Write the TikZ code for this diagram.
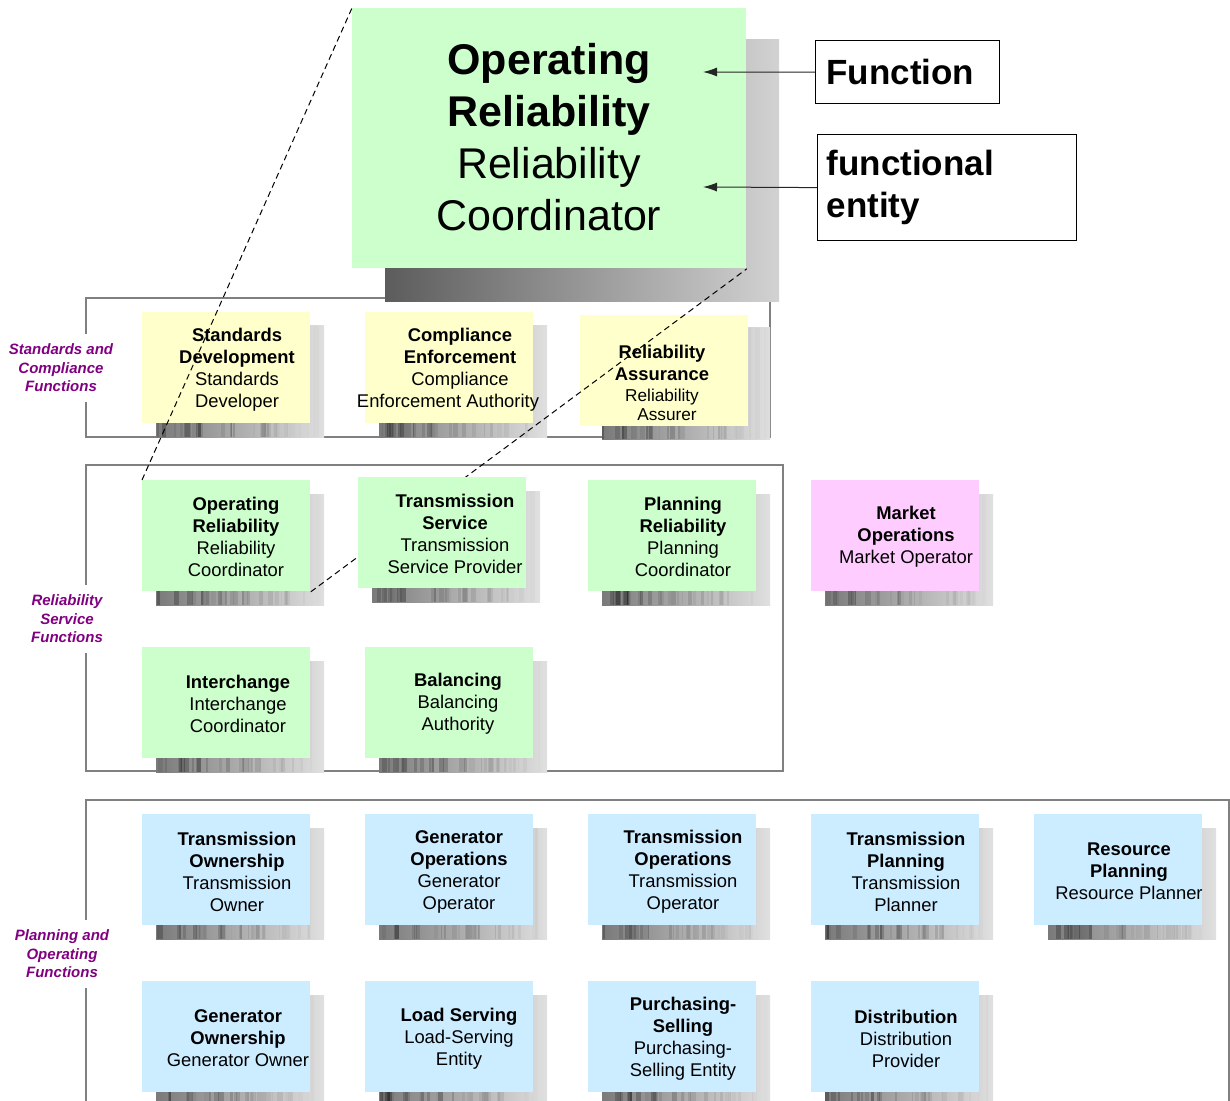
\documentclass[tikz,border=0pt]{standalone}
\usepackage{fontspec}
\setmainfont{Liberation Sans}
\usetikzlibrary{arrows.meta}
\definecolor{fgreen}{HTML}{CCFFCC}
\definecolor{fyellow}{HTML}{FFFFCC}
\definecolor{fpink}{HTML}{FFCCFF}
\definecolor{fblue}{HTML}{CCECFF}
\definecolor{lblpurple}{HTML}{800080}
\definecolor{grpgray}{HTML}{808080}
\definecolor{shdark}{HTML}{7A7A7A}
\definecolor{shlight}{HTML}{E0E0E0}
\definecolor{bigdark}{HTML}{5C5C5C}
\definecolor{biglight}{HTML}{D2D2D2}
\newcommand\B[1]{\textbf{#1}}
\newcommand\shadowbar[4]{%
  \shade[left color=shdark,right color=shlight] (#1,#2) rectangle ++(#3,#4);
  \foreach \k in {1,...,30}{%
    \pgfmathsetmacro\sx{rnd*(#3-4)}%
    \pgfmathsetmacro\sw{1+rnd*5}%
    \pgfmathsetmacro\so{(0.05+rnd*0.25)*(1-\sx/#3)}%
    \fill[black,opacity=\so] (#1+\sx,#2) rectangle ++(\sw,#4);
  }%
}
% name, x, y, colour, text centre, text, shadow dx, shadow dy
\newcommand\fnbox[8]{%
  \pgfmathsetmacro\shx{#2+#7}\pgfmathsetmacro\shy{#3+#8}%
  \shadowbar{\shx}{\shy}{168}{111}
  \node[fnrect,fill=#4] (#1) at (#2,#3) {};
  \node[fntext] (#1-t) at (#5) {#6};
}
\begin{document}
\begin{tikzpicture}[x=0.5pt,y=-0.5pt,
  grp/.style={draw=grpgray,line width=0.6pt},
  fnrect/.style={rectangle,anchor=north west,minimum width=84pt,minimum height=55.5pt,inner sep=0pt},
  fntext/.style={align=center,font=\fontsize{9.2}{11}\selectfont,inner sep=0pt,yshift=-1pt},
  grplabel/.style={align=center,font=\fontsize{7.5}{9.25}\selectfont\bfseries\itshape,text=lblpurple,fill=white,inner xsep=1pt,inner ysep=5pt},
  dashline/.style={dash pattern=on 3pt off 2pt,line width=0.5pt},
  arr/.style={-{Latex[length=7pt,width=4.5pt]},line width=0.5pt,draw=black!85},
  keybox/.style={draw,line width=0.6pt,anchor=north west,align=left,font=\fontsize{17.5}{21}\selectfont\bfseries}]
\pgfmathsetseed{7}
\useasboundingbox (0,0) rectangle (1230,1101);
\fill[white] (0,0) rectangle (1230,1101);

% group frames
\draw[grp] (86,298) rectangle (770,437);
\draw[grp] (86,465) rectangle (783,771);
\draw[grp] (86,1115) -- (86,800) -- (1229,800) -- (1229,1115);
\node[grplabel] (lbl1) at (61,368) {Standards and\\Compliance\\Functions};
\node[grplabel] (lbl2) at (67,619) {Reliability\\Service\\Functions};
\node[grplabel] (lbl3) at (62,954) {Planning and\\Operating\\Functions};

% standards and compliance
\fnbox{sd}{142}{312}{fyellow}{237,367.5}{\B{Standards}\\\B{Development}\\Standards\\Developer}{14}{14}
\fnbox{ce}{365}{312}{fyellow}{460,367.5}{\B{Compliance}\\\B{Enforcement}\\Compliance\\Enforcement Authority\hspace*{12pt}}{14}{14}
\fnbox{ra}{580}{315}{fyellow}{662,381}{\B{Reliability}\\\B{Assurance}\\[-0.5pt]{\fontsize{8.6}{9}\selectfont Reliability}\\[-1.5pt]{\fontsize{8.6}{9}\selectfont\hspace*{5pt}Assurer}}{22}{13}

% enlarged box
\shade[left color=bigdark,right color=biglight] (385,40) rectangle (779,302);
\node[fnrect,fill=fgreen,minimum width=197pt,minimum height=130pt] (big) at (352,8) {};
\node[align=center,inner sep=0pt,font=\fontsize{21.5}{26}\selectfont] (big-t) at (549,137)
  {\B{Operating}\\\B{Reliability}\\Reliability\\Coordinator};

% reliability service
\fnbox{orel}{142}{480}{fgreen}{236,535}{\B{Operating}\\\B{Reliability}\\Reliability\\Coordinator}{14}{14}
\fnbox{prel}{588}{480}{fgreen}{683,535}{\B{Planning}\\\B{Reliability}\\Planning\\Coordinator}{14}{14}
\fnbox{mo}{811}{480}{fpink}{906,535}{\B{Market}\\\B{Operations}\\Market Operator}{14}{14}
\fnbox{ic}{142}{647}{fgreen}{238,702}{\B{Interchange}\\Interchange\\Coordinator}{14}{14}
\fnbox{bal}{365}{647}{fgreen}{458,702}{\B{Balancing}\\Balancing\\Authority}{14}{14}

% planning and operating
\fnbox{tow}{142}{814}{fblue}{237,869.5}{\B{Transmission}\\\B{Ownership}\\Transmission\\Owner}{14}{14}
\fnbox{gop}{365}{814}{fblue}{459,869.5}{\B{Generator}\\\B{Operations}\\Generator\\Operator}{14}{14}
\fnbox{top}{588}{814}{fblue}{683,869.5}{\B{Transmission}\\\B{Operations}\\Transmission\\Operator}{14}{14}
\fnbox{tpl}{811}{814}{fblue}{906,869.5}{\B{Transmission}\\\B{Planning}\\Transmission\\Planner}{14}{14}
\fnbox{rp}{1034}{814}{fblue}{1129,869.5}{\B{Resource}\\\B{Planning}\\Resource Planner}{14}{14}
\fnbox{gow}{142}{981}{fblue}{238,1036.5}{\B{Generator}\\\B{Ownership}\\Generator Owner}{14}{14}
\fnbox{ls}{365}{981}{fblue}{459,1036.5}{\B{Load Serving}\\Load-Serving\\Entity}{14}{14}
\fnbox{ps}{588}{981}{fblue}{683,1036.5}{\B{Purchasing-}\\\B{Selling}\\Purchasing-\\Selling Entity}{14}{14}
\fnbox{dist}{811}{981}{fblue}{906,1036.5}{\B{Distribution}\\Distribution\\Provider}{14}{14}

% zoom lines
\draw[dashline] (orel.north west) -- (big.north west);
\draw[dashline] (orel.south east) -- (big.south east);

\fnbox{ts}{358}{477}{fgreen}{455,532}{\B{Transmission}\\\B{Service}\\Transmission\\Service Provider}{14}{14}

% key
\node[keybox,minimum height=31.5pt,text width=81pt,inner xsep=5.5pt] (func) at (815,40) {Function};
\node[keybox,minimum height=53pt,text width=120.5pt,inner xsep=4.5pt] (ent) at (817,134) {functional\\entity};
\coordinate (tip1) at (703,72);
\coordinate (tip2) at (703,187);
\draw[arr] (func.west) -- (tip1);
\draw[arr] (ent.west) -- (tip2);
\end{tikzpicture}
\end{document}
